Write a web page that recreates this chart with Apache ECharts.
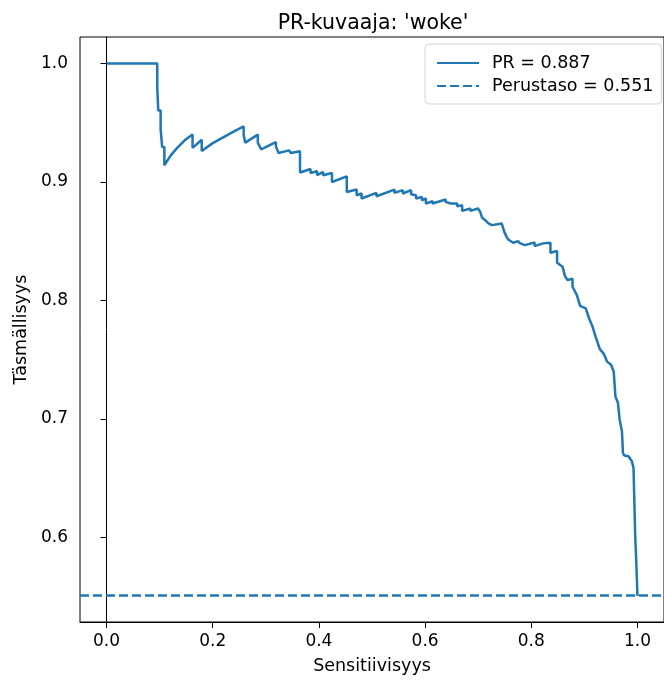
<!DOCTYPE html>
<html>
<head>
<meta charset="utf-8">
<script src="https://cdn.jsdelivr.net/npm/echarts@6/dist/echarts.min.js"></script>
<style>
  html, body { margin: 0; padding: 0; background: #fff; }
  #chart { width: 664px; height: 682px; }
</style>
</head>
<body>
<div id="chart"></div>
<script>
// values (recall on x, precision on y)
var recall = [
  0, 0.0955, 0.0955, 0.0974, 0.0974, 0.1019, 0.1019, 0.1048, 0.1048, 0.1089, 0.1089,
  0.1210, 0.1322, 0.1471, 0.1620, 0.1620, 0.1793, 0.1793,
  0.1993, 0.2179, 0.2384, 0.2583, 0.2583, 0.2613, 0.2613,
  0.2849, 0.2849, 0.2911, 0.3190, 0.3190, 0.3240, 0.3439, 0.3469,
  0.3644, 0.3644, 0.3842, 0.3842, 0.3966, 0.3966, 0.4078, 0.4078,
  0.4246, 0.4246, 0.4525, 0.4525, 0.4711, 0.4711, 0.4804, 0.4804,
  0.5084, 0.5084, 0.5425, 0.5425, 0.5581, 0.5581, 0.5736, 0.5736,
  0.5829, 0.5829, 0.5940, 0.5940, 0.6015, 0.6015, 0.6140, 0.6140,
  0.6387, 0.6387, 0.6480, 0.6480, 0.6605, 0.6605, 0.6698, 0.6698,
  0.6853, 0.6853, 0.6996, 0.7039, 0.7071, 0.7132, 0.7194, 0.7257,
  0.7443, 0.7492, 0.7536, 0.7566, 0.7659, 0.7752, 0.7784, 0.7877,
  0.8063, 0.8063, 0.8218, 0.8218, 0.8361, 0.8361, 0.8486, 0.8486,
  0.8590, 0.8635, 0.8683, 0.8777, 0.8777, 0.8858, 0.8920, 0.9026,
  0.9088, 0.9149, 0.9212, 0.9292, 0.9367, 0.9428, 0.9503, 0.9553,
  0.9585, 0.9633, 0.9665, 0.9708, 0.9727, 0.9752, 0.9832, 0.9894,
  0.9926, 0.9939, 0.9957, 0.9976, 1.0, 1.0
];
var precision = [
  1.0, 1.0, 0.980, 0.980, 0.9604, 0.9604, 0.9444, 0.9444, 0.9295, 0.9295, 0.9141,
  0.9225, 0.9284, 0.9352, 0.9402, 0.9288, 0.9357, 0.9261,
  0.9326, 0.9373, 0.9423, 0.9469, 0.9394, 0.9394, 0.9332,
  0.9400, 0.9332, 0.9276, 0.9337, 0.9301, 0.9245, 0.9267, 0.9245,
  0.9259, 0.9080, 0.9110, 0.9076, 0.9091, 0.9057, 0.9085, 0.9057,
  0.9076, 0.9000, 0.9048, 0.8916, 0.8936, 0.8888, 0.8903, 0.8861,
  0.8908, 0.8880, 0.8936, 0.8908, 0.8931, 0.8903, 0.8931, 0.8897,
  0.8888, 0.8861, 0.8874, 0.8846, 0.8861, 0.8819, 0.8838, 0.8819,
  0.8852, 0.8832, 0.8819, 0.8804, 0.8819, 0.8796, 0.8804, 0.8756,
  0.8776, 0.8756, 0.8776, 0.8748, 0.8701, 0.8678, 0.8650, 0.8636,
  0.8650, 0.8579, 0.8537, 0.8515, 0.8487, 0.8501, 0.8484, 0.8467,
  0.8490, 0.8459, 0.8482, 0.8467, 0.8487, 0.8403, 0.8417, 0.8318,
  0.8285, 0.8206, 0.8173, 0.8184, 0.8116, 0.8046, 0.7954, 0.7934,
  0.7850, 0.7785, 0.7695, 0.7589, 0.7549, 0.7484, 0.7457, 0.7398,
  0.7190, 0.7134, 0.6994, 0.6895, 0.6713, 0.6691, 0.6685, 0.6643,
  0.6587, 0.6348, 0.6025, 0.5815, 0.5815, 0.5506
];
var apScore = 0.887;
var baseline = 0.551;
var xTicks = [0, 0.2, 0.4, 0.6, 0.8, 1.0];
var yTicks = [0.6, 0.7, 0.8, 0.9, 1.0];

var xMin = -0.05, xMax = 1.05;
var yMin = 0.5286, yMax = 1.0224;

var blue = '#1f77b4';
var font = 'DejaVu Sans';

var prName = 'PR = ' + apScore.toFixed(3);
var baseName = 'Perustaso = ' + baseline.toFixed(3);

var prData = recall.map(function (r, i) { return [r, precision[i]]; });
var baseData = [[xMin, baseline], [xMax, baseline]];

var chart = echarts.init(document.getElementById('chart'), null, { renderer: 'canvas' });

chart.setOption({
  animation: false,
  backgroundColor: '#fff',
  title: {
    text: "PR-kuvaaja: 'woke'",
    left: 368,
    top: 8,
    textAlign: 'center',
    textStyle: { fontFamily: font, fontSize: 20.5, fontWeight: 'normal', color: '#000' }
  },
  grid: {
    left: 80, top: 37, width: 591, height: 585,
    show: true, borderColor: '#000', borderWidth: 1, backgroundColor: 'transparent'
  },
  legend: {
    orient: 'vertical',
    left: 425, top: 44,
    padding: [10, 8, 9, 11],
    itemGap: 5,
    itemWidth: 42, itemHeight: 14,
    backgroundColor: '#fff',
    borderColor: '#d4d4d4', borderWidth: 1, borderRadius: 4,
    itemStyle: { color: 'transparent', borderColor: 'transparent', borderWidth: 0 },
    textStyle: { fontFamily: font, fontSize: 17.5, color: '#000', padding: [0, 0, 0, 8] },
    data: [prName, baseName]
  },
  xAxis: {
    type: 'value', min: xMin, max: xMax,
    name: 'Sensitiivisyys', nameLocation: 'middle', nameGap: 35,
    nameTextStyle: { fontFamily: font, fontSize: 17.5, color: '#000' },
    axisLine: { show: true, lineStyle: { color: '#000', width: 1 } },
    axisTick: { show: true, length: 6, lineStyle: { color: '#000' }, customValues: xTicks },
    axisLabel: {
      fontFamily: font, fontSize: 17, color: '#000', margin: 11,
      customValues: xTicks,
      formatter: function (v) { return v.toFixed(1); }
    },
    splitLine: { show: false }
  },
  yAxis: {
    type: 'value', min: yMin, max: yMax,
    name: 'Täsmällisyys', nameLocation: 'middle', nameGap: 47, nameRotate: 90,
    nameTextStyle: { fontFamily: font, fontSize: 17.5, color: '#000' },
    axisLine: { show: true, lineStyle: { color: '#000', width: 1 } },
    axisTick: { show: true, length: 6, lineStyle: { color: '#000' }, customValues: yTicks },
    axisLabel: {
      fontFamily: font, fontSize: 17, color: '#000', margin: 12,
      customValues: yTicks,
      formatter: function (v) { return v.toFixed(1); }
    },
    splitLine: { show: false }
  },
  series: [
    {
      name: prName,
      type: 'line',
      data: prData,
      showSymbol: false, symbol: 'none',
      lineStyle: { color: blue, width: 2.5 },
      itemStyle: { color: blue },
      z: 3
    },
    {
      name: baseName,
      type: 'line',
      data: baseData,
      showSymbol: false, symbol: 'none',
      lineStyle: { color: blue, width: 2.5, type: [9, 4] },
      itemStyle: { color: blue },
      z: 2
    }
  ]
});
</script>
</body>
</html>
